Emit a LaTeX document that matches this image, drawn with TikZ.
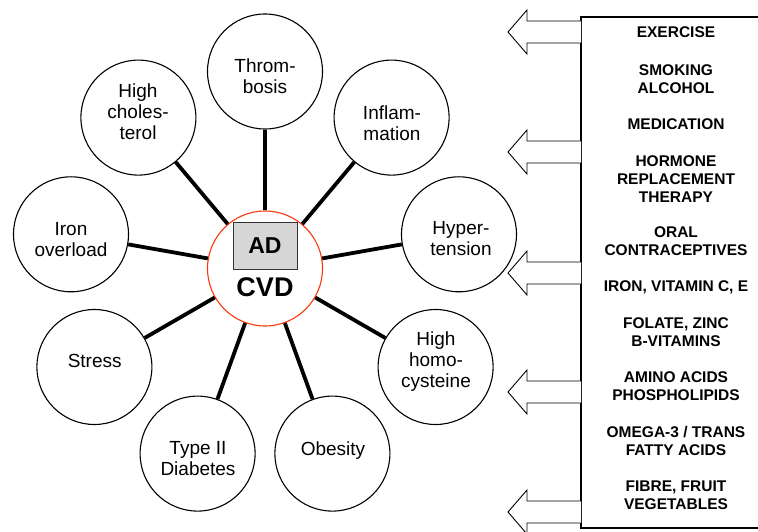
\documentclass[tikz,border=0pt]{standalone}
\usepackage{fontspec}
\setmainfont{Liberation Sans}
\definecolor{cvdred}{RGB}{250,55,15}
\begin{document}
\begin{tikzpicture}[x=1pt,y=-1pt,
  outer/.style={circle,draw,line width=1.1pt,minimum size=115pt,inner sep=0pt,fill=white},
  ctext/.style={align=center,font=\fontsize{19}{21}\selectfont,inner sep=0pt},
  btext/.style={align=center,font=\fontsize{15.5}{18}\selectfont\bfseries,inner sep=0pt},
  link/.style={line width=3.8pt},
  blockarrow/.style={draw,line width=0.9pt,fill=white,line join=miter},
  boxline/.style={line width=1.1pt}
]
\useasboundingbox (0,0) rectangle (758,532);
\clip (0,0) rectangle (758,532);

% centre
\node[circle,draw=cvdred,line width=1.1pt,minimum size=115pt,inner sep=0pt,fill=white] (cvd) at (265,268.5) {};
\node[draw=black!80,line width=1pt,fill=black!16,minimum width=64pt,minimum height=47pt,inner sep=0pt,
      font=\fontsize{23}{25}\selectfont\bfseries] (ad) at (265,245.5) {AD};
\node[inner sep=0pt,font=\fontsize{27}{29}\selectfont\bfseries] (cvdt) at (265,287) {CVD};

% outer circles
\node[outer] (thr) at (265,71.5) {};
\node[outer] (chol) at (138.4,117.6) {};
\node[outer] (iron) at (71,234.3) {};
\node[outer] (stress) at (94.4,367) {};
\node[outer] (diab) at (197.6,453.6) {};
\node[outer] (obes) at (332.4,453.6) {};
\node[outer] (homo) at (435.6,367) {};
\node[outer] (hyper) at (459,234.3) {};
\node[outer] (infl) at (391.6,117.6) {};

% texts
\node[ctext] (thrt) at (265,76.5) {Throm-\\bosis};
\node[ctext] (cholt) at (138,112) {High\\choles-\\terol};
\node[ctext] (iront) at (71,239.5) {Iron\\overload};
\node[ctext] (stresst) at (94.7,360.7) {Stress};
\node[ctext] (diabt) at (198,458.5) {Type II\\Diabetes};
\node[ctext] (obest) at (333,451) {Obesity};
\node[ctext] (homot) at (436,361.7) {High\\homo-\\cysteine};
\node[ctext] (hypert) at (461,239) {Hyper-\\tension};
\node[ctext] (inflt) at (392,123) {Inflam-\\mation};

% links
\foreach \n in {thr,chol,iron,stress,diab,obes,homo,hyper,infl}
  \draw[link] (cvd) -- (\n);

% right box (open to the right, beyond the picture)
\coordinate (btr) at (780,17);
\coordinate (btl) at (581,17);
\coordinate (bbl) at (581,528);
\coordinate (bbr) at (780,528);
\draw[boxline] (btr) -- (btl) -- (bbl) -- (bbr);

% block arrows
\foreach \y in {32,152,273,392,512}
  \draw[blockarrow] (581,\y-11) -- (527,\y-11) -- (527,\y-22) -- (508,\y)
        -- (527,\y+22) -- (527,\y+11) -- (581,\y+11);

% box texts
\node[btext] (t1) at (676,32) {EXERCISE};
\node[btext] (t2) at (676,79) {SMOKING\\ALCOHOL};
\node[btext] (t3) at (676,124) {MEDICATION};
\node[btext] (t4) at (676,179) {HORMONE\\REPLACEMENT\\THERAPY};
\node[btext] (t5) at (676,241) {ORAL\\CONTRACEPTIVES};
\node[btext] (t6) at (676,287) {IRON, VITAMIN C, E};
\node[btext] (t7) at (676,332) {FOLATE, ZINC\\B-VITAMINS};
\node[btext] (t8) at (676,386.5) {AMINO ACIDS\\PHOSPHOLIPIDS};
\node[btext] (t9) at (676,441) {OMEGA-3 / TRANS\\FATTY ACIDS};
\node[btext] (t10) at (676,495) {FIBRE, FRUIT\\VEGETABLES};
\end{tikzpicture}
\end{document}
